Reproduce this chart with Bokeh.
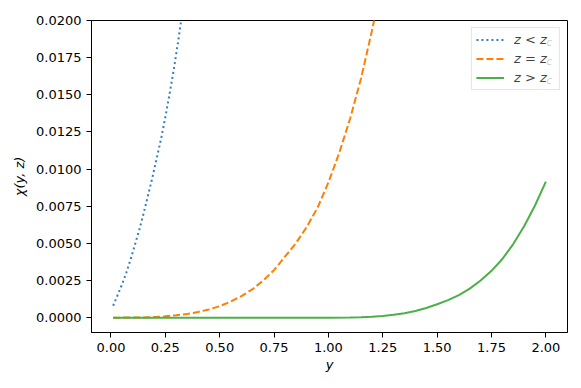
from bokeh.plotting import figure
from bokeh.models import (Range1d, FixedTicker, PrintfTickFormatter, Legend, LegendItem, Label)
from bokeh.embed import file_html
from bokeh.resources import INLINE

# ---- data ----
blue_x = [0.01, 0.03, 0.05, 0.07, 0.09, 0.11, 0.13, 0.15, 0.17, 0.19, 0.21, 0.23, 0.25,
          0.27, 0.29, 0.31, 0.33]
blue_y = [0.0008, 0.0015, 0.0022, 0.0030, 0.0039, 0.0049, 0.0059, 0.0070, 0.0082, 0.0094,
          0.0107, 0.0120, 0.0135, 0.0151, 0.0168, 0.0187, 0.0207]

orange_x = [0.01, 0.05, 0.10, 0.15, 0.20, 0.25, 0.30, 0.35, 0.40, 0.45, 0.50, 0.55, 0.60,
            0.65, 0.70, 0.75, 0.80, 0.85, 0.90, 0.95, 1.00, 1.05, 1.10, 1.15, 1.20, 1.25]
orange_y = [0.0, 0.000001, 0.000004, 0.000015, 0.00004, 0.00009, 0.00016, 0.00025, 0.00038,
            0.00055, 0.00077, 0.00108, 0.00145, 0.0019, 0.0025, 0.0032, 0.0041, 0.0050,
            0.0061, 0.0074, 0.0091, 0.0111, 0.0134, 0.0161, 0.0193, 0.0228]

green_x = [0.01, 0.5, 1.0, 1.10, 1.15, 1.20, 1.25, 1.30, 1.35, 1.40, 1.45, 1.50, 1.55, 1.60,
           1.65, 1.70, 1.75, 1.80, 1.85, 1.90, 1.95, 2.00]
green_y = [0.0, 0.0, 0.0, 0.00001, 0.00003, 0.00006, 0.00011, 0.00019, 0.00030, 0.00045,
           0.00065, 0.00090, 0.00118, 0.00152, 0.00195, 0.00250, 0.00315, 0.00395, 0.00495,
           0.00615, 0.00755, 0.00915]

labels = ["z < z", "z = z", "z > z"]
subscript = "c"
x_ticks = [0.0, 0.25, 0.5, 0.75, 1.0, 1.25, 1.5, 1.75, 2.0]
y_ticks = [0.0, 0.0025, 0.005, 0.0075, 0.01, 0.0125, 0.015, 0.0175, 0.02]

FONT = "DejaVu Sans"

p = figure(frame_width=476, frame_height=312, output_backend="svg", toolbar_location=None,
           x_range=Range1d(-0.0895, 2.0995), y_range=Range1d(-0.001, 0.02),
           min_border_left=91, min_border_top=20, min_border_right=14, min_border_bottom=56)
p.background_fill_color = "white"
p.border_fill_color = "white"
p.outline_line_color = "black"
p.outline_line_width = 1
p.xgrid.visible = False
p.ygrid.visible = False

r1 = p.line(blue_x, blue_y, line_color="#377eb8", line_width=2, line_dash="2 3")
r2 = p.line(orange_x, orange_y, line_color="#ff7f00", line_width=2, line_dash="7 3")
r3 = p.line(green_x, green_y, line_color="#4daf4a", line_width=2)

for ax in (p.xaxis[0], p.yaxis[0]):
    ax.major_label_text_font = FONT
    ax.major_label_text_font_size = "13px"
    ax.major_label_text_color = "black"
    ax.axis_label_text_font = FONT
    ax.axis_label_text_font_size = "13px"
    ax.axis_label_text_font_style = "italic"
    ax.axis_label_text_color = "black"
    ax.major_tick_out = 5
    ax.major_tick_in = 0
    ax.minor_tick_out = 0
    ax.minor_tick_in = 0
    ax.axis_line_color = "black"
    ax.major_tick_line_color = "black"

p.xaxis.ticker = FixedTicker(ticks=x_ticks)
p.yaxis.ticker = FixedTicker(ticks=y_ticks)
p.xaxis.formatter = PrintfTickFormatter(format="%.2f")
p.yaxis.formatter = PrintfTickFormatter(format="%.4f")
p.xaxis.axis_label = "y"
p.yaxis.axis_label = "χ(y, z)"
p.xaxis.axis_label_standoff = 2
p.yaxis.axis_label_standoff = 6

legend = Legend(items=[LegendItem(label=labels[0] + "  ", renderers=[r1]),
                       LegendItem(label=labels[1] + "  ", renderers=[r2]),
                       LegendItem(label=labels[2] + "  ", renderers=[r3])],
                location="top_right", margin=7, padding=4, spacing=4,
                glyph_width=28, glyph_height=15, label_height=15, label_standoff=10,
                label_text_font=FONT, label_text_font_size="13px", label_text_font_style="italic",
                border_line_color="#cccccc", border_line_width=1, background_fill_alpha=0.8)
p.add_layout(legend)

for i in range(3):
    p.add_layout(Label(x=455, y=290 - 19 * i, x_units="screen", y_units="screen",
                       text=subscript, text_baseline="middle",
                       text_font=FONT, text_font_size="10px", text_font_style="italic",
                       text_color="black"))

open("out.html", "w").write(file_html(p, INLINE))
